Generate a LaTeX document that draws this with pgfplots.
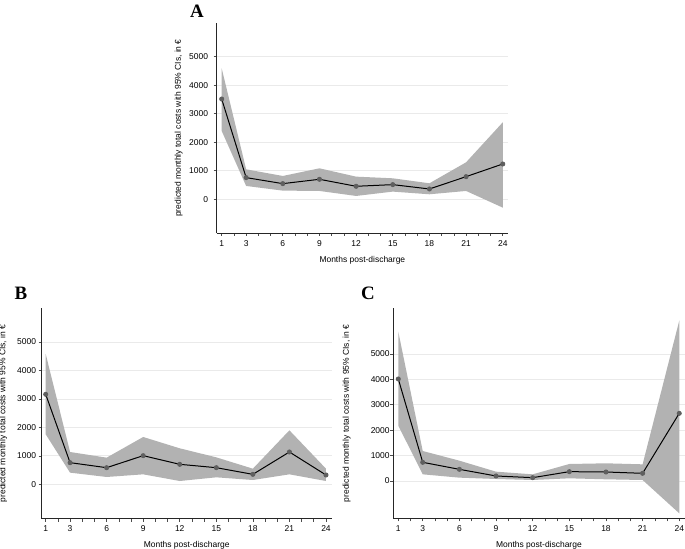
\documentclass[border=0pt]{standalone}
\usepackage{pgfplots}
\pgfplotsset{compat=1.18}
\usepackage{pgfplotstable}
\usepgfplotslibrary{fillbetween}
\usepackage{fontspec}
\setmainfont{Liberation Sans}
\newfontfamily\titlefont{Liberation Serif}
\definecolor{bandgray}{RGB}{178,178,178}
\definecolor{markgray}{RGB}{95,95,95}
\definecolor{gridgray}{RGB}{234,234,234}

\pgfplotstableread{
x est lo hi
1 3516 2395 4591
3 760 467 1051
6 549 304 818
9 701 292 1086
12 456 117 794
15 514 269 736
18 362 175 561
21 794 292 1297
24 1238 -292 2699
}\tableA

\pgfplotstableread{
x est lo hi
1 3162 1756 4578
3 761 410 1136
6 585 258 937
9 1007 351 1663
12 703 117 1265
15 585 246 948
18 351 152 550
21 1136 351 1897
24 328 117 550
}\tableB

\pgfplotstableread{
x est lo hi
1 4016 2178 5879
3 735 262 1181
6 459 131 800
9 197 79 367
12 131 39 262
15 367 105 669
18 354 66 696
21 302 39 656
24 2664 -1273 6312
}\tableC

\pgfplotsset{
  panel/.style={
    scale only axis,
    axis lines*=left,
    axis line style={black!85, line width=0.9bp},
    font=\fontsize{8.5}{10}\selectfont,
    /pgf/number format/assume math mode=true,
    /pgf/number format/1000 sep={},
    xtick={1,3,6,9,12,15,18,21,24},
    minor xtick={2,4,5,7,8,10,11,13,14,16,17,19,20,22,23},
    ytick={0,1000,2000,3000,4000,5000},
    tick align=outside,
    major tick length=3bp,
    minor tick length=3bp,
    tick style={black!70, line width=0.6bp},
    ymajorgrids,
    major grid style={gridgray, line width=0.8bp},
    xlabel={Months post-discharge},
    ylabel={predicted monthly total costs with 95\% CIs, in €},
    xlabel style={at={(axis description cs:0.5,0)}, anchor=center, yshift=-27bp},
    xticklabel style={inner sep=0pt, yshift=-4bp},
  },
}

\begin{document}
\begin{tikzpicture}

% Panel A
\begin{axis}[panel,
  at={(216.7bp,316bp)}, anchor=south west,
  width=291.3bp, height=210bp,
  xmin=0.591, xmax=24.43, ymin=-1182, ymax=6182,
  ylabel style={at={(axis description cs:-0.1305,0.5)}, anchor=center},
  yticklabel style={inner sep=0pt, xshift=-5.5bp},
]
\addplot[draw=none, name path=hi, forget plot] table[x=x,y=hi]{\tableA};
\addplot[draw=none, name path=lo, forget plot] table[x=x,y=lo]{\tableA};
\addplot[fill=bandgray, draw=none] fill between[of=hi and lo];
\addplot[black, line width=1bp, mark=*, mark size=2bp, mark options={fill=markgray, draw=markgray}] table[x=x,y=est]{\tableA};
\end{axis}

% Panel B
\begin{axis}[panel,
  at={(41.7bp,30.3bp)}, anchor=south west,
  width=290bp, height=210.4bp,
  xmin=0.672, xmax=24.47, ymin=-1207, ymax=6183,
  ylabel style={at={(axis description cs:-0.1324,0.5)}, anchor=center},
  yticklabel style={inner sep=0pt, xshift=-2.5bp},
]
\addplot[draw=none, name path=hi, forget plot] table[x=x,y=hi]{\tableB};
\addplot[draw=none, name path=lo, forget plot] table[x=x,y=lo]{\tableB};
\addplot[fill=bandgray, draw=none] fill between[of=hi and lo];
\addplot[black, line width=1bp, mark=*, mark size=2bp, mark options={fill=markgray, draw=markgray}] table[x=x,y=est]{\tableB};
\end{axis}

% Panel C
\begin{axis}[panel,
  at={(393.3bp,30.7bp)}, anchor=south west,
  width=291.2bp, height=210bp,
  xmin=0.591, xmax=24.43, ymin=-1469, ymax=6799,
  ylabel style={at={(axis description cs:-0.16,0.5)}, anchor=center},
  yticklabel style={inner sep=0pt, xshift=-0.5bp},
]
\addplot[draw=none, name path=hi, forget plot] table[x=x,y=hi]{\tableC};
\addplot[draw=none, name path=lo, forget plot] table[x=x,y=lo]{\tableC};
\addplot[fill=bandgray, draw=none] fill between[of=hi and lo];
\addplot[black, line width=1bp, mark=*, mark size=2bp, mark options={fill=markgray, draw=markgray}] table[x=x,y=est]{\tableC};
\end{axis}

\node[font=\titlefont\bfseries\fontsize{19}{20}\selectfont] at (197bp,538bp) {A};
\node[font=\titlefont\bfseries\fontsize{19}{20}\selectfont] at (21bp,256bp) {B};
\node[font=\titlefont\bfseries\fontsize{19}{20}\selectfont] at (368bp,256bp) {C};

\pgfresetboundingbox
\useasboundingbox (0,0) rectangle (685bp,549bp);
\end{tikzpicture}
\end{document}
